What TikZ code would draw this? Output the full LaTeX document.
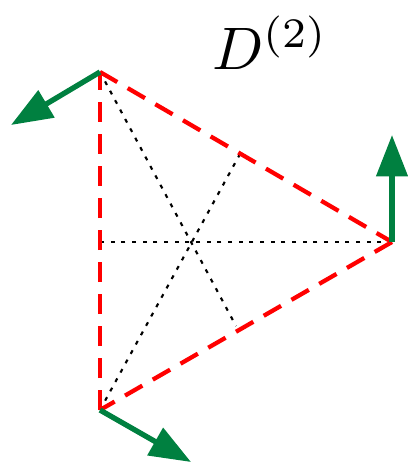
\documentclass[tikz,border=0pt]{standalone}
\usetikzlibrary{arrows.meta}
\definecolor{dgreen}{RGB}{0,128,64}
\begin{document}
\begin{tikzpicture}[x=0.75pt,y=-0.75pt,
  edge/.style={red, line width=3.2pt, dash pattern=on 15pt off 9pt},
  median/.style={black, line width=1.6pt, dash pattern=on 3pt off 5pt},
  disp/.style={dgreen, line width=4pt, -{Triangle[length=31pt,width=23pt]}}]
\useasboundingbox (0,0) rectangle (407,463);
\coordinate (A) at (100,72);
\coordinate (B) at (392,242);
\coordinate (C) at (100,410);
\coordinate (mAB) at (240,154);
\coordinate (mBC) at (236,326);
\coordinate (mCA) at (100,242);
\draw[median] (A) -- (mBC);
\draw[median] (C) -- (mAB);
\draw[median] (B) -- (mCA);
\draw[edge] (A) -- (B);
\draw[edge] (B) -- (C);
\draw[edge] (C) -- (A);
\coordinate (eA) at (11,125);
\coordinate (eB) at (392,135);
\coordinate (eC) at (191,462);
\draw[disp] (A) -- (eA);
\draw[disp] (B) -- (eB);
\draw[disp] (C) -- (eC);
\node[scale=4.5] (lbl) at (270,43) {$D^{(2)}$};
\end{tikzpicture}
\end{document}
